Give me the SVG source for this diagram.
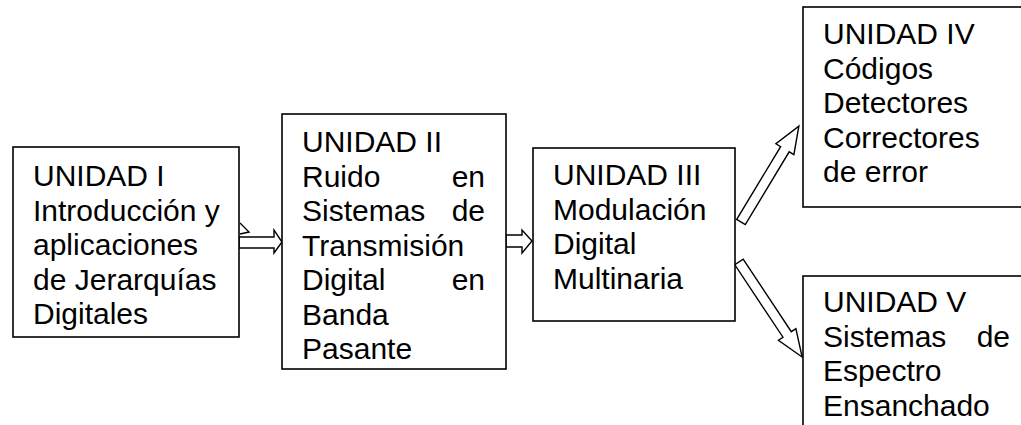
<svg xmlns="http://www.w3.org/2000/svg" width="1021" height="425" viewBox="0 0 1021 425">
<style>
.box{fill:#fff;stroke:#000;stroke-width:1.6}
.arr{fill:#fff;stroke:#000;stroke-width:1.4;stroke-linejoin:miter}
text{font-family:"Liberation Sans",Arial,sans-serif;font-size:30px;fill:#000}
.r{text-anchor:end}
</style>
<rect width="1021" height="425" fill="#fff"/>
<g id="connectors">
<polyline class="arr" points="240,223 249,232 240,234"/>
<polygon class="arr" points="239,237 274,237 274,230 282,242 274,253 274,248 239,248"/>
<polygon class="arr" points="506,235 522,235 522,230 532,241 522,253 522,247 506,247"/>
<polygon class="arr" transform="translate(741,222) rotate(-58.9)" points="0,-5 85,-5 85,-10.5 112,0 85,10.5 85,5 0,5"/>
<polygon class="arr" transform="translate(739,262) rotate(56.4)" points="0,-5 87,-5 87,-10.5 114,0 87,10.5 87,5 0,5"/>
</g>
<g id="unidad1">
<rect class="box" x="13" y="147" width="226" height="190"/>
<text x="33" y="186">UNIDAD I</text>
<text x="33" y="220.5">Introducción y</text>
<text x="33" y="255">aplicaciones</text>
<text x="33" y="289.5">de Jerarquías</text>
<text x="33" y="324">Digitales</text>
</g>
<g id="unidad2">
<rect class="box" x="282" y="114" width="224" height="255"/>
<text x="302" y="152">UNIDAD II</text>
<text x="302" y="186.5">Ruido</text><text class="r" x="485" y="186.5">en</text>
<text x="302" y="221">Sistemas</text><text class="r" x="485" y="221">de</text>
<text x="302" y="255.5">Transmisión</text>
<text x="302" y="290">Digital</text><text class="r" x="485" y="290">en</text>
<text x="302" y="324.5">Banda</text>
<text x="302" y="359">Pasante</text>
</g>
<g id="unidad3">
<rect class="box" x="533" y="148" width="202" height="173"/>
<text x="553" y="185">UNIDAD III</text>
<text x="553" y="219.5">Modulación</text>
<text x="553" y="254">Digital</text>
<text x="553" y="288.5">Multinaria</text>
</g>
<g id="unidad4">
<rect class="box" x="803" y="7" width="240" height="200"/>
<text x="823" y="44">UNIDAD IV</text>
<text x="823" y="78.5">Códigos</text>
<text x="823" y="113">Detectores</text>
<text x="823" y="147.5">Correctores</text>
<text x="823" y="182">de error</text>
</g>
<g id="unidad5">
<rect class="box" x="803" y="276" width="240" height="170"/>
<text x="823" y="312">UNIDAD V</text>
<text x="823" y="346.5">Sistemas</text><text class="r" x="1010" y="346.5">de</text>
<text x="823" y="381">Espectro</text>
<text x="823" y="415.5">Ensanchado</text>
</g>
</svg>
